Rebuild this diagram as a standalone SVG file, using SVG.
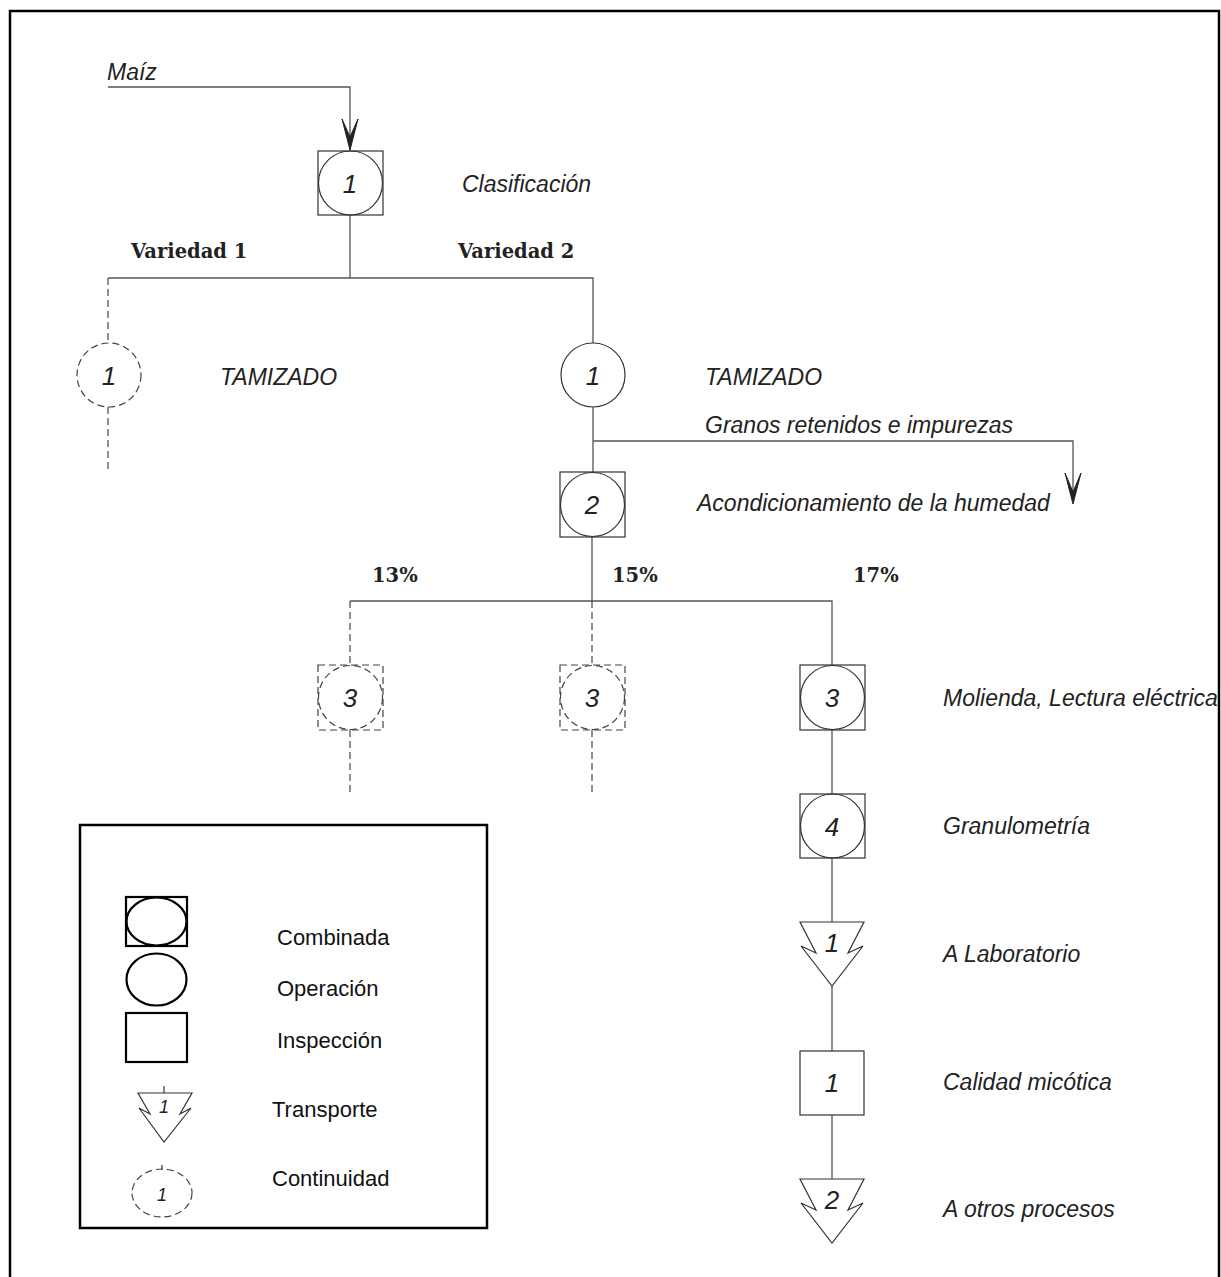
<svg xmlns="http://www.w3.org/2000/svg" width="1221" height="1277" viewBox="0 0 1221 1277">
<defs>
<style>
.bg{fill:#ffffff}
.frame{fill:none;stroke:#000;stroke-width:2.5}
.ln{fill:none;stroke:#555;stroke-width:1.3}
.dl{fill:none;stroke:#555;stroke-width:1.3;stroke-dasharray:7 4}
.sym{fill:none;stroke:#333;stroke-width:1.2}
.dsym{fill:none;stroke:#444;stroke-width:1.2;stroke-dasharray:7 4}
.lsym{fill:none;stroke:#000;stroke-width:2.2}
.ah{fill:#222;stroke:#222;stroke-width:1}
.lbl{font-family:"Liberation Sans",Arial,sans-serif;font-style:italic;font-size:23px;fill:#222}
.num{font-family:"Liberation Sans",Arial,sans-serif;font-style:italic;font-size:26px;fill:#222;text-anchor:middle}
.bold{font-family:"DejaVu Serif","Liberation Serif",serif;font-weight:bold;font-size:19.5px;fill:#222}
.leg{font-family:"Liberation Sans",Arial,sans-serif;font-size:22px;fill:#111}
.lnum{font-family:"Liberation Sans",Arial,sans-serif;font-style:italic;font-size:18px;fill:#222;text-anchor:middle}
</style>
</defs>
<rect class="bg" x="0" y="0" width="1221" height="1277"/>
<path class="frame" d="M10,1280 V11 H1219 V1280"/>

<g id="connectors">
<path class="ln" d="M108,87 H350 V150"/>
<polygon class="ah" points="342,119 350,150 358,119 350,137"/>
<path class="ln" d="M350,215 V278 M108,278 H593 V343"/>
<path class="dl" d="M108,278 V343 M108,407 V470"/>
<path class="ln" d="M593,407 V472 M593,441 H1073 V503"/>
<polygon class="ah" points="1065,473 1073,504 1081,473 1073,492"/>
<path class="ln" d="M592,537 V602 M592,601 H832 V665"/>
<path class="ln" d="M350,601 H592"/>
<path class="dl" d="M350,601 V665 M592,601 V665 M350,730 V795 M592,730 V795"/>
<path class="ln" d="M832,730 V794 M832,858 V922 M832,986 V1051 M832,1115 V1179"/>
</g>

<g id="lbl-maiz"><text class="lbl" x="107" y="80">Maíz</text></g>

<g id="n-clasificacion">
<rect class="sym" x="318" y="151" width="65" height="64"/>
<circle class="sym" cx="350.5" cy="183" r="32"/>
<text class="num" x="350" y="193">1</text>
<text class="lbl" x="462" y="192">Clasificación</text>
</g>

<text class="bold" x="131" y="258">Variedad 1</text>
<text class="bold" x="458" y="258">Variedad 2</text>

<g id="n-tamizado-1">
<circle class="dsym" cx="109" cy="375" r="32"/>
<text class="num" x="109" y="385">1</text>
<text class="lbl" x="220" y="385">TAMIZADO</text>
</g>

<g id="n-tamizado-2">
<circle class="sym" cx="593" cy="375" r="32"/>
<text class="num" x="593" y="385">1</text>
<text class="lbl" x="705" y="385">TAMIZADO</text>
</g>

<text class="lbl" x="705" y="433">Granos retenidos e impurezas</text>

<g id="n-acondicionamiento">
<rect class="sym" x="560" y="472" width="65" height="65"/>
<circle class="sym" cx="592.5" cy="504.5" r="32"/>
<text class="num" x="592" y="514">2</text>
<text class="lbl" x="697" y="511">Acondicionamiento de la humedad</text>
</g>

<text class="bold" x="372" y="582">13%</text>
<text class="bold" x="612" y="582">15%</text>
<text class="bold" x="853" y="582">17%</text>

<g id="n-molienda-13">
<rect class="dsym" x="318" y="665" width="65" height="65"/>
<circle class="dsym" cx="350.5" cy="697.5" r="32"/>
<text class="num" x="350" y="707">3</text>
</g>
<g id="n-molienda-15">
<rect class="dsym" x="560" y="665" width="65" height="65"/>
<circle class="dsym" cx="592.5" cy="697.5" r="32"/>
<text class="num" x="592" y="707">3</text>
</g>
<g id="n-molienda-17">
<rect class="sym" x="800" y="665" width="65" height="65"/>
<circle class="sym" cx="832.5" cy="697.5" r="32"/>
<text class="num" x="832" y="707">3</text>
<text class="lbl" x="943" y="706">Molienda, Lectura eléctrica</text>
</g>

<g id="n-granulometria">
<rect class="sym" x="800" y="794" width="65" height="64"/>
<circle class="sym" cx="832.5" cy="826" r="32"/>
<text class="num" x="832" y="836">4</text>
<text class="lbl" x="943" y="834">Granulometría</text>
</g>

<g id="n-laboratorio">
<path class="sym" d="M800,922 H864 L848,953 L863,946 L832,986 L801,946 L816,953 Z"/>
<text class="num" x="832" y="952">1</text>
<text class="lbl" x="943" y="962">A Laboratorio</text>
</g>

<g id="n-calidad">
<rect class="sym" x="800" y="1051" width="64" height="64"/>
<text class="num" x="832" y="1092">1</text>
<text class="lbl" x="943" y="1090">Calidad micótica</text>
</g>

<g id="n-otros">
<path class="sym" d="M800,1179 H864 L848,1210 L863,1203 L832,1243 L801,1203 L816,1210 Z"/>
<text class="num" x="832" y="1209">2</text>
<text class="lbl" x="943" y="1217">A otros procesos</text>
</g>

<g id="legend">
<rect class="frame" x="80" y="825" width="407" height="403"/>
<rect class="lsym" x="126" y="897" width="61" height="49"/>
<ellipse class="lsym" cx="156.5" cy="921.5" rx="30" ry="24"/>
<text class="leg" x="277" y="945">Combinada</text>
<ellipse class="lsym" cx="156.5" cy="979.5" rx="30" ry="26"/>
<text class="leg" x="277" y="996">Operación</text>
<rect class="lsym" x="126" y="1013" width="61" height="49"/>
<text class="leg" x="277" y="1048">Inspección</text>
<path class="sym" d="M164,1086 V1093 M138,1093 H192 L180,1114 L191,1108 L164,1142 L139,1108 L150,1114 Z"/>
<text class="lnum" x="164" y="1113">1</text>
<text class="leg" x="272" y="1117">Transporte</text>
<path class="sym" d="M162,1165 V1170"/>
<ellipse class="dsym" cx="162" cy="1193" rx="30" ry="24"/>
<text class="lnum" x="162" y="1201">1</text>
<text class="leg" x="272" y="1186">Continuidad</text>
</g>
</svg>
